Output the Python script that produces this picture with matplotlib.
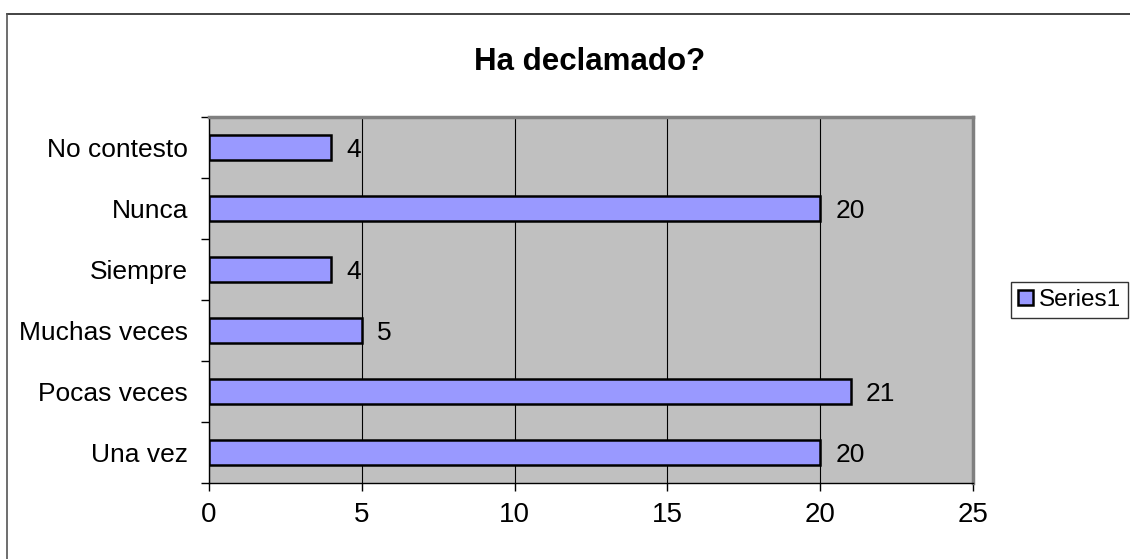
import numpy as np
import matplotlib.pyplot as plt
from matplotlib.lines import Line2D

categories = ['Una vez', 'Pocas veces', 'Muchas veces', 'Siempre', 'Nunca', 'No contesto']
values = [20, 21, 5, 4, 20, 4]
xticks = [0, 5, 10, 15, 20, 25]

plt.rcParams['font.family'] = ['Liberation Sans', 'DejaVu Sans']

fig = plt.figure(figsize=(11.3, 5.59), dpi=100)
ax = fig.add_axes([209/1130, 1-483/559, (973-209)/1130, (483-117)/559])

# outer chart frame (left and top edges visible)
fig.add_artist(Line2D([7/1130, 1], [1-14/559, 1-14/559], transform=fig.transFigure, color='#222222', lw=1.2))
fig.add_artist(Line2D([7/1130, 7/1130], [0, 1-14/559], transform=fig.transFigure, color='#555555', lw=1.2))

ax.set_facecolor('#C0C0C0')
y = np.arange(len(categories))
bars = ax.barh(y, values, height=0.4, color='#9999FF', edgecolor='black', linewidth=1.8,
               label='Series1', zorder=3)

for yi, v in zip(y, values):
    ax.annotate(str(v), (v, yi), xytext=(11, 0), textcoords='offset points',
                ha='left', va='center_baseline', fontsize=19)

ax.set_xlim(0, 25)
ax.set_ylim(-0.5, len(categories) - 0.5)
ax.set_xticks(xticks)
ax.set_xticklabels([str(t) for t in xticks], fontsize=20)
ax.tick_params(axis='x', length=6, width=1, pad=8)

ax.set_yticks(np.arange(-0.5, len(categories), 1.0))
ax.set_yticklabels([])
ax.set_yticks(y, minor=True)
ax.set_yticklabels(categories, minor=True, fontsize=19)
ax.tick_params(axis='y', which='major', length=6, width=1)
ax.tick_params(axis='y', which='minor', length=0, pad=15)

ax.xaxis.grid(True, color='black', lw=0.8, zorder=1)
ax.set_axisbelow(True)

for s in ['top', 'right']:
    ax.spines[s].set_color('#808080')
    ax.spines[s].set_linewidth(2.5)
for s in ['left', 'bottom']:
    ax.spines[s].set_color('black')
    ax.spines[s].set_linewidth(1)

fig.text(590/1130, 1-62/559, 'Ha declamado?', ha='center', va='center',
         fontsize=22.5, fontweight='bold')

leg = fig.legend(loc='center left', bbox_to_anchor=(1011/1130, 1-300/559), fontsize=17.5,
                 frameon=True, fancybox=False, edgecolor='black', handlelength=0.6,
                 handleheight=0.6, handletextpad=0.25, borderpad=0.3, borderaxespad=0)
leg.get_frame().set_linewidth(1)

fig.savefig('out.png', dpi=100)
